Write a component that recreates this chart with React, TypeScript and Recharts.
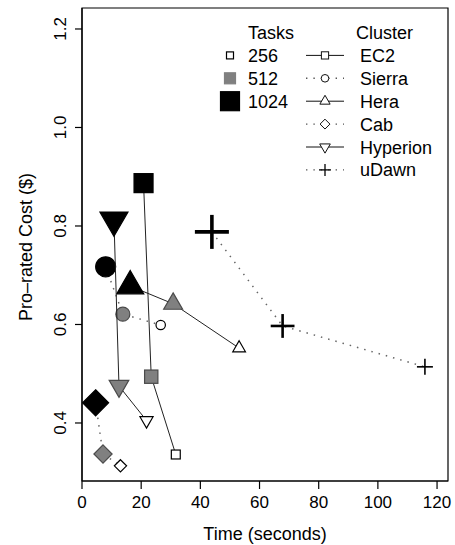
import React from "react";
import {
  ScatterChart,
  Scatter,
  XAxis,
  YAxis,
  ReferenceArea,
  Legend,
} from "recharts";

const FONT = "'Liberation Sans', Arial, Helvetica, sans-serif";

// task counts, in the order each cluster's line is drawn
const tasks = [1024, 512, 256];

const ec2Time = [20.8, 23.4, 31.7];
const ec2Cost = [0.887, 0.494, 0.336];
const sierraTime = [8.0, 13.8, 26.6];
const sierraCost = [0.717, 0.621, 0.599];
const heraTime = [16.3, 30.8, 53.1];
const heraCost = [0.678, 0.642, 0.552];
const cabTime = [4.6, 7.1, 13.0];
const cabCost = [0.441, 0.337, 0.313];
const hyperionTime = [10.8, 12.5, 21.8];
const hyperionCost = [0.812, 0.475, 0.405];
const udawnTime = [43.9, 67.8, 115.9];
const udawnCost = [0.788, 0.597, 0.514];

const xTicks = [0, 20, 40, 60, 80, 100, 120];
const yTicks = [0.4, 0.6, 0.8, 1.0, 1.2];
const xDomain = [0, 123.7];
const yDomain = [0.2822, 1.2426];

type Kind = "square" | "circle" | "triangle" | "invtriangle" | "diamond" | "plus";

const clusters: { name: string; kind: Kind; time: number[]; cost: number[]; dotted: boolean }[] = [
  { name: "EC2", kind: "square", time: ec2Time, cost: ec2Cost, dotted: false },
  { name: "Sierra", kind: "circle", time: sierraTime, cost: sierraCost, dotted: true },
  { name: "Hera", kind: "triangle", time: heraTime, cost: heraCost, dotted: false },
  { name: "Cab", kind: "diamond", time: cabTime, cost: cabCost, dotted: true },
  { name: "Hyperion", kind: "invtriangle", time: hyperionTime, cost: hyperionCost, dotted: false },
  { name: "uDawn", kind: "plus", time: udawnTime, cost: udawnCost, dotted: true },
];

const SCALE: Record<number, number> = { 1024: 1, 512: 0.7, 256: 0.47 };
const FILL: Record<number, string> = { 1024: "#000", 512: "#808080", 256: "#fff" };
const EDGE: Record<number, string> = { 1024: "#000", 512: "#4a4a4a", 256: "#000" };

function drawMarker(kind: Kind, cx: number, cy: number, k: number, fill: string, stroke: string, sw = 1.2) {
  switch (kind) {
    case "square": {
      const s = 19 * k;
      return <rect x={cx - s / 2} y={cy - s / 2} width={s} height={s} fill={fill} stroke={stroke} strokeWidth={sw} />;
    }
    case "circle":
      return <circle cx={cx} cy={cy} r={10 * k} fill={fill} stroke={stroke} strokeWidth={sw} />;
    case "triangle": {
      const a = 27 * k;
      const h = (a * Math.sqrt(3)) / 2;
      const pts = `${cx},${cy - (2 * h) / 3} ${cx + a / 2},${cy + h / 3} ${cx - a / 2},${cy + h / 3}`;
      return <polygon points={pts} fill={fill} stroke={stroke} strokeWidth={sw} />;
    }
    case "invtriangle": {
      const a = 28 * k;
      const h = (a * Math.sqrt(3)) / 2;
      const pts = `${cx},${cy + (2 * h) / 3} ${cx + a / 2},${cy - h / 3} ${cx - a / 2},${cy - h / 3}`;
      return <polygon points={pts} fill={fill} stroke={stroke} strokeWidth={sw} />;
    }
    case "diamond": {
      const d = 13 * k;
      const pts = `${cx},${cy - d} ${cx + d},${cy} ${cx},${cy + d} ${cx - d},${cy}`;
      return <polygon points={pts} fill={fill} stroke={stroke} strokeWidth={sw} />;
    }
    case "plus": {
      const d = 17 * k;
      const w = k >= 1 ? 3.6 : k >= 0.7 ? 2.6 : 1.6;
      return (
        <g stroke="#000" strokeWidth={w}>
          <line x1={cx - d} y1={cy} x2={cx + d} y2={cy} />
          <line x1={cx} y1={cy - d} x2={cx} y2={cy + d} />
        </g>
      );
    }
  }
}

const makeShape = (kind: Kind) => (props: any) => {
  const { cx, cy, payload } = props;
  const t = payload.tasks;
  return drawMarker(kind, cx, cy, SCALE[t], FILL[t], EDGE[t]);
};

const XTick = ({ x, y, payload }: any) => (
  <text x={x} y={y + 17} textAnchor="middle" fontSize={17} fontFamily={FONT} fill="#000">
    {payload.value}
  </text>
);

const YTick = ({ x, y, payload }: any) => (
  <text
    transform={`translate(${x - 7},${y}) rotate(-90)`}
    textAnchor="middle"
    fontSize={17}
    fontFamily={FONT}
    fill="#000"
  >
    {Number(payload.value).toFixed(1)}
  </text>
);

const taskKeys = [
  { label: "256", size: 7, fill: "#fff", stroke: "#000" },
  { label: "512", size: 11, fill: "#808080", stroke: "#808080" },
  { label: "1024", size: 19, fill: "#000", stroke: "#000" },
];

function LegendBox() {
  const rowY = (i: number) => 32.5 + 22.9 * i;
  return (
    <svg width={455} height={200} style={{ display: "block" }}>
      <g fontFamily={FONT} fontSize={18} fill="#000">
        <text x={248} y={rowY(0) + 6.5}>Tasks</text>
        <text x={356} y={rowY(0) + 6.5}>Cluster</text>
        {taskKeys.map((t, i) => (
          <g key={t.label}>
            <rect
              x={230 - t.size / 2}
              y={rowY(i + 1) - t.size / 2}
              width={t.size}
              height={t.size}
              fill={t.fill}
              stroke={t.stroke}
              strokeWidth={1.2}
            />
            <text x={248} y={rowY(i + 1) + 6.5}>{t.label}</text>
          </g>
        ))}
        {clusters.map((c, i) => {
          const y = rowY(i + 1);
          return (
            <g key={c.name}>
              <line
                x1={306}
                y1={y}
                x2={344}
                y2={y}
                stroke={c.dotted ? "#555" : "#111"}
                strokeWidth={c.dotted ? 1.4 : 1}
                strokeDasharray={c.dotted ? "1.4 6" : undefined}
              />
              {c.kind === "plus" ? (
                <g stroke="#000" strokeWidth={1.3}>
                  <line x1={319} y1={y} x2={331} y2={y} />
                  <line x1={325} y1={y - 6} x2={325} y2={y + 6} />
                </g>
              ) : (
                drawMarker(c.kind, 325, y, 0.38, "#fff", "#111", 1)
              )}
              <text x={360} y={y + 6.5}>{c.name}</text>
            </g>
          );
        })}
      </g>
    </svg>
  );
}

export default function App() {
  const series = clusters.map((c) => ({
    ...c,
    data: tasks.map((t, i) => ({ x: c.time[i], y: c.cost[i], tasks: t })),
  }));

  return (
    <div style={{ position: "absolute", left: 0, top: 0, width: 455, height: 545, background: "#fff" }}>
      <ScatterChart width={455} height={545} margin={{ top: 8, right: 7, bottom: 0, left: 0 }}>
        <XAxis
          type="number"
          dataKey="x"
          domain={xDomain}
          ticks={xTicks}
          allowDataOverflow
          height={64}
          tickSize={8}
          tick={<XTick />}
          axisLine={{ stroke: "#000", strokeWidth: 1.2 }}
          tickLine={{ stroke: "#000", strokeWidth: 1.2 }}
          label={{
            value: "Time (seconds)",
            content: (p: any) => (
              <text x={265} y={540} textAnchor="middle" fontSize={18} fontFamily={FONT} fill="#000">
                Time (seconds)
              </text>
            ),
          }}
        />
        <YAxis
          type="number"
          dataKey="y"
          domain={yDomain}
          ticks={yTicks}
          allowDataOverflow
          width={82}
          tickSize={7}
          tick={<YTick />}
          axisLine={{ stroke: "#000", strokeWidth: 1.2 }}
          tickLine={{ stroke: "#000", strokeWidth: 1.2 }}
          label={{
            value: "Pro–rated Cost ($)",
            content: () => (
              <text
                transform="translate(32,247) rotate(-90)"
                textAnchor="middle"
                fontSize={18}
                fontFamily={FONT}
                fill="#000"
              >
                Pro–rated Cost ($)
              </text>
            ),
          }}
        />
        <ReferenceArea
          x1={xDomain[0]}
          x2={xDomain[1]}
          y1={yDomain[0]}
          y2={yDomain[1]}
          fill="none"
          stroke="#000"
          strokeWidth={1.2}
          ifOverflow="visible"
        />
        {series.map((s) => (
          <Scatter
            key={s.name}
            name={s.name}
            data={s.data}
            isAnimationActive={false}
            line={
              s.dotted
                ? { stroke: "#666", strokeWidth: 1.5, strokeDasharray: "1.5 6" }
                : { stroke: "#222", strokeWidth: 1 }
            }
            lineType="joint"
            shape={makeShape(s.kind)}
          />
        ))}
        <Legend
          layout="horizontal"
          verticalAlign="middle"
          align="center"
          wrapperStyle={{ position: "absolute", left: 0, top: 0, width: 455, height: 200 }}
          content={() => <LegendBox />}
        />
      </ScatterChart>
    </div>
  );
}
